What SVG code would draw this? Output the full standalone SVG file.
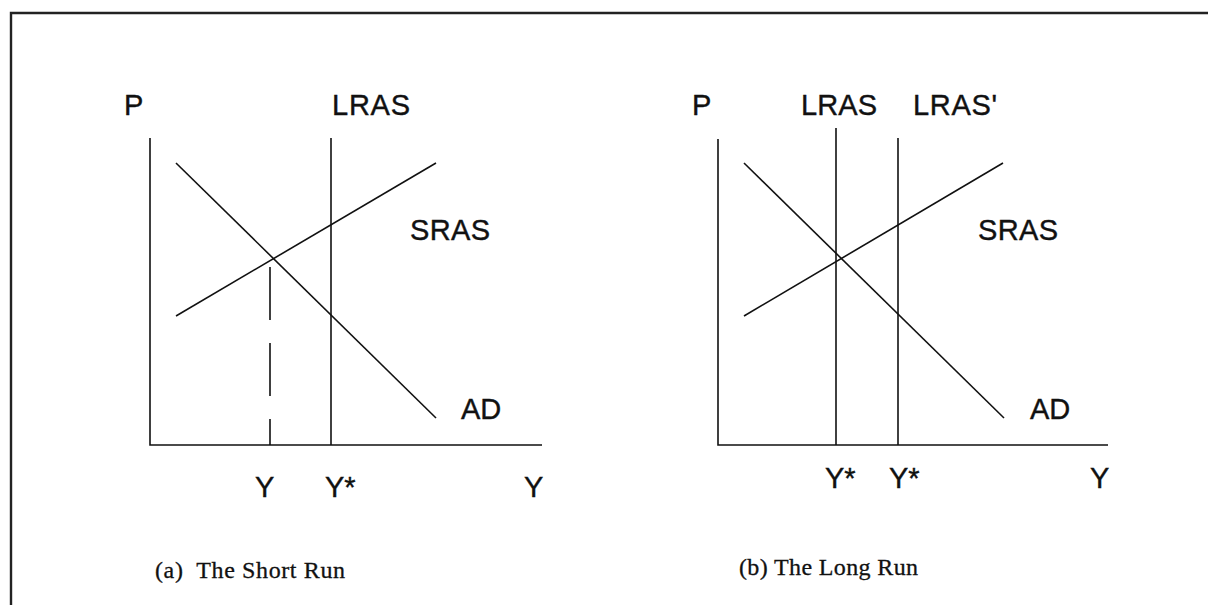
<svg xmlns="http://www.w3.org/2000/svg" width="1208" height="605" viewBox="0 0 1208 605">
<style>
.ln{stroke:#111;stroke-width:1.6;fill:none}
.lb{font-family:"Liberation Sans",Arial,sans-serif;font-size:29px;fill:#111;stroke:#111;stroke-width:0.4}
.cp{font-family:"Liberation Serif","Times New Roman",serif;font-size:24px;fill:#111;stroke:#111;stroke-width:0.3;white-space:pre}
</style>
<rect width="1208" height="605" fill="#fff"/>
<path d="M11,605 V13 H1208" stroke="#222" stroke-width="2.4" fill="none"/>
<g id="connectors">
<path class="ln" d="M150,138 V445 H542"/>
<path class="ln" d="M331,138 V445"/>
<path class="ln" d="M176,163 L436,418"/>
<path class="ln" d="M176,316 L436,163"/>
<path class="ln" d="M270,267 V445" stroke-dasharray="53 23"/>
<path class="ln" d="M718,139 V445 H1108"/>
<path class="ln" d="M836,128 V445"/>
<path class="ln" d="M898,138 V445"/>
<path class="ln" d="M744,163 L1004,418"/>
<path class="ln" d="M744,316 L1003,163"/>
</g>
<g id="panel-a-labels">
<text id="a-P" class="lb" x="124" y="115">P</text>
<text id="a-LRAS" class="lb" x="332" y="115" textLength="78">LRAS</text>
<text id="a-SRAS" class="lb" x="410" y="240" textLength="80">SRAS</text>
<text id="a-AD" class="lb" x="461" y="419">AD</text>
<text id="a-Y" class="lb" x="255" y="497">Y</text>
<text id="a-Ystar" class="lb" x="325" y="497">Y*</text>
<text id="a-Yaxis" class="lb" x="524" y="497">Y</text>
<text id="a-caption" class="cp" x="155" y="578" textLength="190" xml:space="preserve">(a)  The Short Run</text>
</g>
<g id="panel-b-labels">
<text id="b-P" class="lb" x="692" y="115">P</text>
<text id="b-LRAS" class="lb" x="801" y="115" textLength="76">LRAS</text>
<text id="b-LRASp" class="lb" x="913" y="115" textLength="84">LRAS'</text>
<text id="b-SRAS" class="lb" x="978" y="240" textLength="80">SRAS</text>
<text id="b-AD" class="lb" x="1030" y="419">AD</text>
<text id="b-Ystar1" class="lb" x="825" y="488">Y*</text>
<text id="b-Ystar2" class="lb" x="889" y="488">Y*</text>
<text id="b-Yaxis" class="lb" x="1090" y="488">Y</text>
<text id="b-caption" class="cp" x="739" y="575" textLength="179">(b) The Long Run</text>
</g>
</svg>
